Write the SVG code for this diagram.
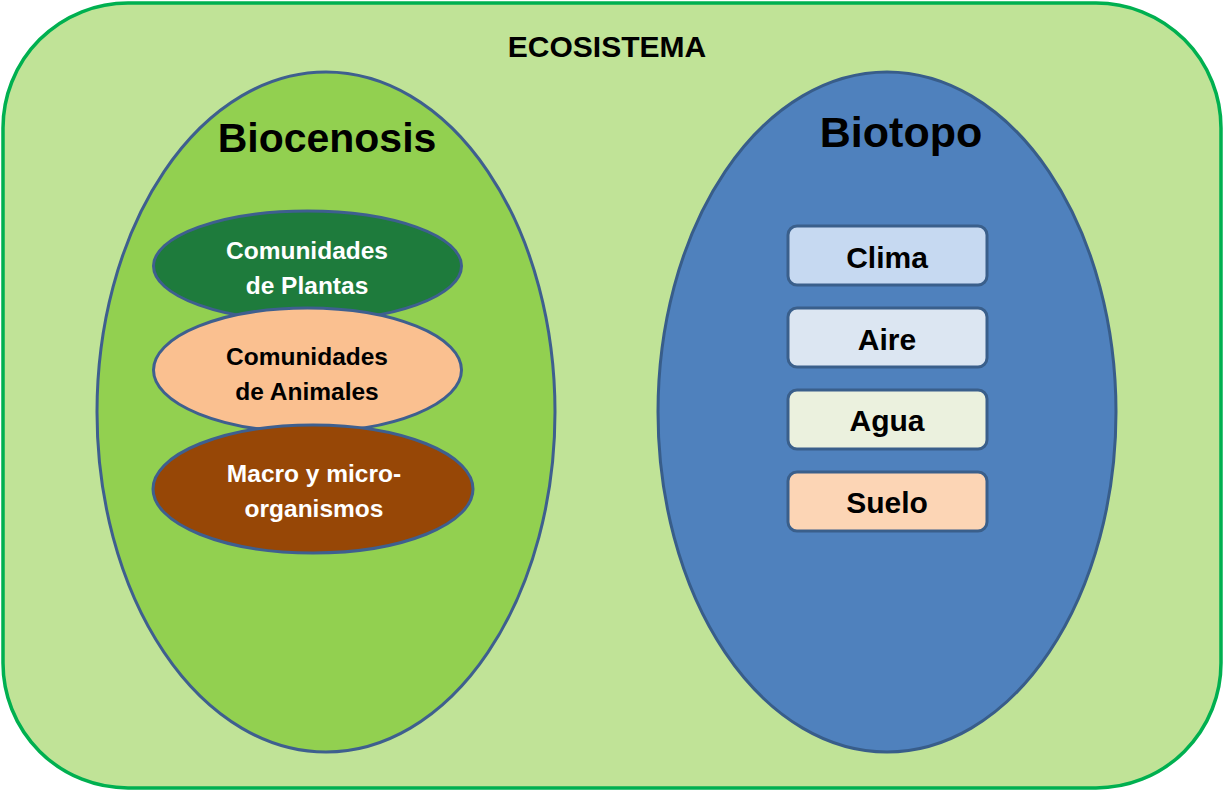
<svg xmlns="http://www.w3.org/2000/svg" width="1225" height="792" viewBox="0 0 1225 792">
<style>
text{font-family:"Liberation Sans",Arial,sans-serif;font-weight:bold;text-anchor:middle}
.big{font-size:41px;fill:#000}
.in{font-size:24.5px}
.box{stroke:#3a5f8b;stroke-width:3}
.bx{font-size:30px;fill:#000}
</style>
<rect id="ecosistema" x="3" y="3" width="1218" height="785" rx="125" ry="125" fill="#c0e397" stroke="#00b050" stroke-width="3.5"/>
<text x="607" y="57" style="font-size:30px">ECOSISTEMA</text>
<g id="biocenosis">
<ellipse cx="326" cy="412" rx="229" ry="340" fill="#92d050" stroke="#3e5f8f" stroke-width="3"/>
<text class="big" x="327" y="152">Biocenosis</text>
</g>
<g id="biotopo">
<ellipse cx="887" cy="412" rx="229" ry="340" fill="#4f81bd" stroke="#385d8a" stroke-width="3"/>
<text class="big" x="901" y="147" style="font-size:43px">Biotopo</text>
</g>
<g id="plantas">
<ellipse cx="307.5" cy="266" rx="154" ry="55" fill="#1e7b3c" stroke="#3e5f8f" stroke-width="3"/>
<text class="in" x="307" y="259" fill="#fff">Comunidades</text>
<text class="in" x="307" y="294" fill="#fff">de Plantas</text>
</g>
<g id="animales">
<ellipse cx="307.5" cy="370" rx="154" ry="62" fill="#fac090" stroke="#3e5f8f" stroke-width="3"/>
<text class="in" x="307" y="365" fill="#000">Comunidades</text>
<text class="in" x="307" y="400" fill="#000">de Animales</text>
</g>
<g id="organismos">
<ellipse cx="313" cy="489" rx="160" ry="64" fill="#974706" stroke="#3e5f8f" stroke-width="3"/>
<text class="in" x="314" y="482" fill="#fff">Macro y micro-</text>
<text class="in" x="314" y="517" fill="#fff">organismos</text>
</g>
<g id="clima">
<rect class="box" x="788" y="226" width="199" height="59" rx="9" fill="#c6d9f1"/>
<text class="bx" x="887" y="268">Clima</text>
</g>
<g id="aire">
<rect class="box" x="788" y="308" width="199" height="59" rx="9" fill="#dce6f2"/>
<text class="bx" x="887" y="350">Aire</text>
</g>
<g id="agua">
<rect class="box" x="788" y="390" width="199" height="59" rx="9" fill="#ebf1de"/>
<text class="bx" x="887" y="431">Agua</text>
</g>
<g id="suelo">
<rect class="box" x="788" y="472" width="199" height="59" rx="9" fill="#fcd5b5"/>
<text class="bx" x="887" y="513">Suelo</text>
</g>
<g id="connectors"/>
</svg>
